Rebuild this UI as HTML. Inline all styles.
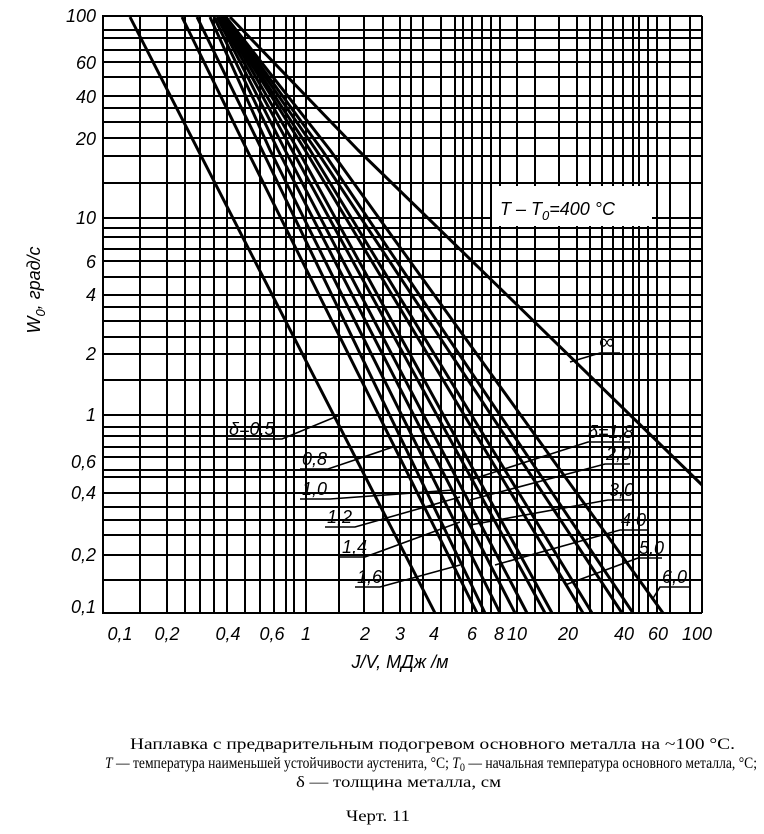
<!DOCTYPE html>
<html><head><meta charset="utf-8"><style>
body{margin:0;background:#fff;width:764px;height:834px;overflow:hidden}
svg{position:absolute;left:0;top:0}
.t{font-family:"Liberation Sans",sans-serif;font-style:italic;font-size:18px;fill:#000}
.c{font-family:"Liberation Serif",serif;font-size:16px;fill:#000}
</style></head><body>
<svg width="764" height="834" viewBox="0 0 764 834">
<g stroke="#000" stroke-width="2" fill="none">
<path d="M102 16H702M102 30H702M102 38H702M102 50H702M102 62H702M102 77H702M102 96H702M102 108H702M102 122H702M102 138H702M102 156H702M102 183H702M102 218H702M102 228H702M102 237H702M102 249H702M102 261H702M102 277H702M102 295H702M102 307H702M102 321H702M102 337H702M102 354H702M102 380H702M102 415H702M102 427H702M102 436H702M102 447H702M102 457H702M102 470H702M102 477H702M102 493H702M102 507H702M102 520H702M102 535H702M102 555H702M102 580H702M102 613H702"/>
<path d="M103 16V613M140 16V613M167 16V613M185 16V613M200 16V613M214 16V613M227 16V613M245 16V613M260 16V613M274 16V613M286 16V613M294 16V613M306 16V613M339 16V613M364 16V613M383 16V613M400 16V613M411 16V613M423 16V613M441 16V613M455 16V613M463 16V613M472 16V613M482 16V613M491 16V613M500 16V613M517 16V613M535 16V613M559 16V613M577 16V613M590 16V613M602 16V613M613 16V613M623 16V613M633 16V613M639 16V613M648 16V613M657 16V613M670 16V613M690 16V613M702 16V613"/>
</g>
<rect x="492" y="186" width="160" height="40" fill="#fff"/>
<g stroke="#000" stroke-width="3" fill="none" stroke-linejoin="round">
<path d="M130 17L435 613"/>
<path d="M182 17L247 150L477 613"/>
<path d="M197 17L262 150L485 613"/>
<path d="M210 17L270 150L500 613"/>
<path d="M214 17L278 150L515 613"/>
<path d="M217 17L285 150L527 613"/>
<path d="M219 17L292 150L545 613"/>
<path d="M221 17L298 150L552 613"/>
<path d="M222 17L305 150L583 613"/>
<path d="M223 17L310 150L592 613"/>
<path d="M224 17L316 150L622 613"/>
<path d="M225 17L322 150L633 613"/>
<path d="M226 17L330 150L663 613"/>
<path d="M230 17L358 150L702 485"/>
</g>
<g stroke="#000" stroke-width="1.6" fill="none">
<path d="M228 439H282L340 415"/>
<path d="M300 469H328L393 447"/>
<path d="M300 499H330L453 490"/>
<path d="M325 527H355L460 497"/>
<path d="M340 557H365L460 522"/>
<path d="M355 587H380L460 565"/>
<path d="M620 353H600L570 362"/>
<path d="M630 442H588L470 480"/>
<path d="M630 464H605L470 500"/>
<path d="M633 500H608L470 525"/>
<path d="M648 530H620L495 565"/>
<path d="M662 558H638L565 585"/>
<path d="M690 587H660L652 600"/>
</g>
<g class="t" font-size="16">
<text x="229" y="435">δ=0,5</text>
<text x="302" y="465">0,8</text>
<text x="302" y="495">1,0</text>
<text x="327" y="523">1,2</text>
<text x="342" y="553">1,4</text>
<text x="357" y="583">1,6</text>
<text x="599" y="349" font-size="22" font-style="normal">∞</text>
<text x="588" y="438">δ=1,8</text>
<text x="606" y="460">2,0</text>
<text x="609" y="496">3,0</text>
<text x="621" y="526">4,0</text>
<text x="639" y="554">5,0</text>
<text x="662" y="583">6,0</text>
</g>
<text class="t" x="500" y="215" font-size="19">T – T<tspan font-size="13" dy="5">0</tspan><tspan dy="-5">=400 °C</tspan></text>
<g class="t" text-anchor="end">
<text x="96" y="22">100</text><text x="96" y="69">60</text><text x="96" y="103">40</text>
<text x="96" y="145">20</text><text x="96" y="224">10</text><text x="96" y="268">6</text>
<text x="96" y="301">4</text><text x="96" y="360">2</text><text x="96" y="421">1</text>
<text x="96" y="468">0,6</text><text x="96" y="499">0,4</text><text x="96" y="561">0,2</text>
<text x="96" y="613">0,1</text>
</g>
<g class="t" text-anchor="middle">
<text x="120" y="640">0,1</text><text x="167" y="640">0,2</text><text x="228" y="640">0,4</text>
<text x="272" y="640">0,6</text><text x="306" y="640">1</text><text x="365" y="640">2</text>
<text x="400" y="640">3</text><text x="434" y="640">4</text><text x="472" y="640">6</text>
<text x="499" y="640">8</text><text x="517" y="640">10</text><text x="568" y="640">20</text>
<text x="624" y="640">40</text><text x="658" y="640">60</text><text x="697" y="640">100</text>
</g>
<text class="t" x="400" y="668" text-anchor="middle">J/V, МДж /м</text>
<text class="t" transform="translate(40,290) rotate(-90)" text-anchor="middle">W<tspan font-size="13" dy="5">0</tspan><tspan dy="-5">, град/с</tspan></text>
<g class="c">
<text x="130" y="749" textLength="605" lengthAdjust="spacingAndGlyphs">Наплавка с предварительным подогревом основного металла на  ~100 °C.</text>
<text x="105" y="768" textLength="652" lengthAdjust="spacingAndGlyphs"><tspan font-style="italic">T</tspan> — температура наименьшей устойчивости аустенита, °C; <tspan font-style="italic">T</tspan><tspan font-size="12" dy="3">0</tspan><tspan dy="-3"> — начальная температура основного металла, °C;</tspan></text>
<text x="296" y="787" textLength="205" lengthAdjust="spacingAndGlyphs">δ — толщина металла, см</text>
<text x="346" y="821" textLength="64" lengthAdjust="spacingAndGlyphs">Черт. 11</text>
</g>
</svg>
</body></html>
